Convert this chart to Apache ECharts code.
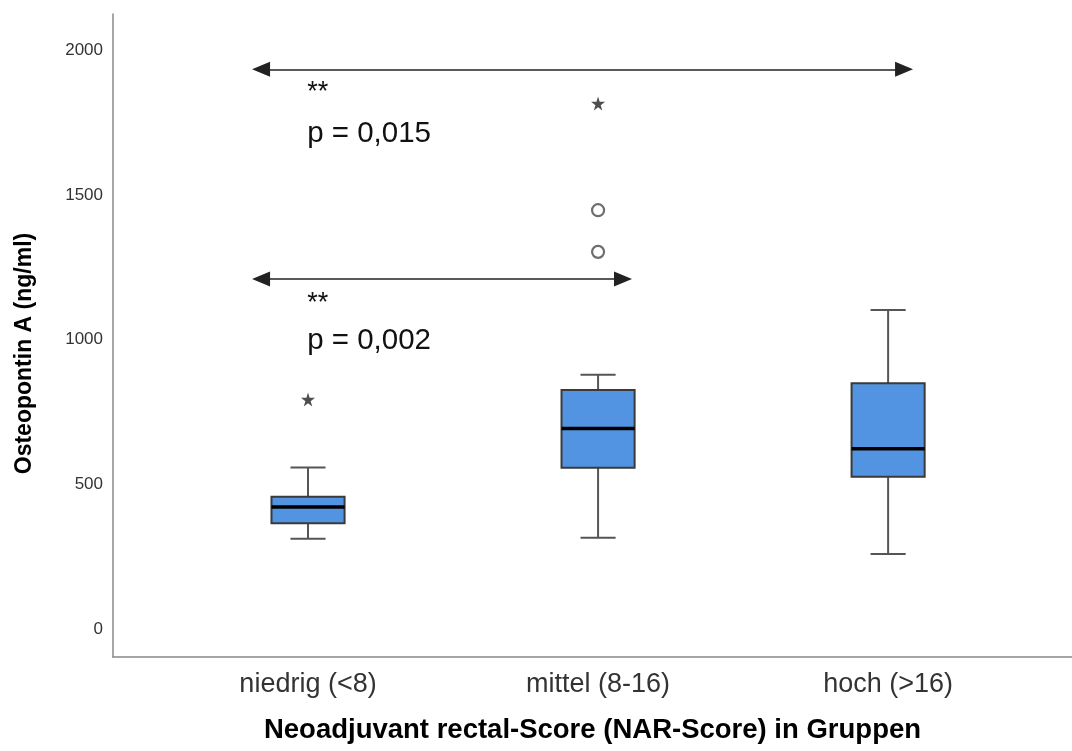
<!DOCTYPE html>
<html>
<head>
<meta charset="utf-8">
<script src="https://cdn.jsdelivr.net/npm/echarts@6/dist/echarts.min.js"></script>
<style>html,body{margin:0;padding:0;background:#fff}#c{width:1072px;height:751px}</style>
</head>
<body>
<div id="c"></div>
<script>
// ---- data ----
const categories = ['niedrig (<8)', 'mittel (8-16)', 'hoch (>16)'];
const lowerWhisker = [312, 315, 259];
const q1 = [365, 557, 526];
const median = [421, 693, 623];
const q3 = [457, 826, 849];
const upperWhisker = [558, 878, 1102];
const outlierCircles = [[2, 1447], [2, 1303]];
const outlierStars = [[1, 793], [2, 1816]];
const yTicks = [0, 500, 1000, 1500, 2000];
// significance annotations
const sigFrom = [0.838, 0.838];
const sigTo = [3.055, 2.086];
const sigY = [1934, 1209];
const sigStarsY = [1852, 1126];
const sigPY = [1710, 996];
const sigText = ['p = 0,015', 'p = 0,002'];

const boxData = categories.map((c, i) => [i + 1, lowerWhisker[i], q1[i], median[i], q3[i], upperWhisker[i]]);

const STAR = 'path://M50,0 L61,35 L98,35 L68,57 L79,91 L50,70 L21,91 L32,57 L2,35 L39,35 Z';
const FONT = 'Liberation Sans, Arial, sans-serif';

const chart = echarts.init(document.getElementById('c'), null, {renderer: 'canvas'});

const markLines = sigFrom.map((f, i) => [{coord: [f, sigY[i]]}, {coord: [sigTo[i], sigY[i]]}]);
const markPoints = [];
sigFrom.forEach((f, i) => {
  markPoints.push({name: '**', coord: [0.997, sigStarsY[i]], label: {fontSize: 27}});
  markPoints.push({name: sigText[i], coord: [0.997, sigPY[i]]});
});

chart.setOption({
  backgroundColor: '#fff',
  animation: false,
  grid: {left: 113, right: 0, top: 14, bottom: 94, containLabel: false, outerBoundsMode: 'none'},
  xAxis: {
    type: 'value', min: 0.3276, max: 3.634,
    splitLine: {show: false},
    axisTick: {show: false},
    axisLine: {show: true, onZero: false, lineStyle: {color: '#888', width: 1.5}},
    axisLabel: {
      customValues: [1, 2, 3],
      formatter: v => categories[Math.round(v) - 1] || '',
      fontSize: 27, color: '#333', fontFamily: FONT, margin: 14
    },
    name: 'Neoadjuvant rectal-Score (NAR-Score) in Gruppen',
    nameLocation: 'middle', nameGap: 59,
    nameTextStyle: {fontSize: 27.5, fontWeight: 'bold', color: '#000', fontFamily: FONT}
  },
  yAxis: {
    type: 'value', min: -97, max: 2125,
    splitLine: {show: false},
    axisTick: {show: false},
    axisLine: {show: true, onZero: false, lineStyle: {color: '#888', width: 1.5}},
    axisLabel: {customValues: yTicks, formatter: v => String(v), fontSize: 17, color: '#333', fontFamily: FONT, margin: 10},
    name: 'Osteopontin A (ng/ml)',
    nameLocation: 'middle', nameGap: 77,
    nameTextStyle: {fontSize: 23, fontWeight: 'bold', color: '#000', fontFamily: FONT, padding: [0, 36, 0, 0]}
  },
  series: [
    {
      type: 'custom',
      data: boxData,
      encode: {x: 0, y: [1, 2, 3, 4, 5]},
      renderItem: function (params, api) {
        const x = api.value(0);
        const pLo = api.coord([x, api.value(1)]);
        const pQ1 = api.coord([x, api.value(2)]);
        const pMed = api.coord([x, api.value(3)]);
        const pQ3 = api.coord([x, api.value(4)]);
        const pHi = api.coord([x, api.value(5)]);
        const band = api.size([1, 0])[0];
        const bw = band * 0.252;
        const cw = bw * 0.48;
        const cx = pLo[0];
        const wStyle = {stroke: '#555', lineWidth: 2};
        return {
          type: 'group',
          children: [
            {type: 'line', shape: {x1: cx, y1: pLo[1], x2: cx, y2: pQ1[1]}, style: wStyle},
            {type: 'line', shape: {x1: cx, y1: pQ3[1], x2: cx, y2: pHi[1]}, style: wStyle},
            {type: 'line', shape: {x1: cx - cw / 2, y1: pLo[1], x2: cx + cw / 2, y2: pLo[1]}, style: wStyle},
            {type: 'line', shape: {x1: cx - cw / 2, y1: pHi[1], x2: cx + cw / 2, y2: pHi[1]}, style: wStyle},
            {type: 'rect', shape: {x: cx - bw / 2, y: pQ3[1], width: bw, height: pQ1[1] - pQ3[1]},
              style: {fill: '#5294e2', stroke: '#3a3a3a', lineWidth: 2}},
            {type: 'line', shape: {x1: cx - bw / 2, y1: pMed[1], x2: cx + bw / 2, y2: pMed[1]},
              style: {stroke: '#000', lineWidth: 3.5}}
          ]
        };
      },
      z: 2
    },
    {
      type: 'scatter',
      data: outlierCircles,
      symbol: 'circle', symbolSize: 12,
      itemStyle: {color: '#fff', borderColor: '#4a4a4a', borderWidth: 2.2},
      z: 3
    },
    {
      type: 'scatter',
      data: outlierStars,
      symbol: STAR, symbolSize: 14,
      itemStyle: {color: '#222'},
      z: 3
    },
    {
      type: 'scatter',
      data: [],
      markLine: {
        silent: true,
        symbol: ['triangle', 'triangle'],
        symbolSize: [15, 18],
        lineStyle: {color: '#222', width: 1.5, type: 'solid'},
        itemStyle: {color: '#000'},
        label: {show: false},
        data: markLines
      },
      markPoint: {
        silent: true,
        symbol: 'circle', symbolSize: 0,
        label: {show: true, position: 'right', distance: 0, formatter: '{b}',
          fontSize: 29.5, color: '#111', fontFamily: FONT},
        data: markPoints
      }
    }
  ]
});
</script>
</body>
</html>
